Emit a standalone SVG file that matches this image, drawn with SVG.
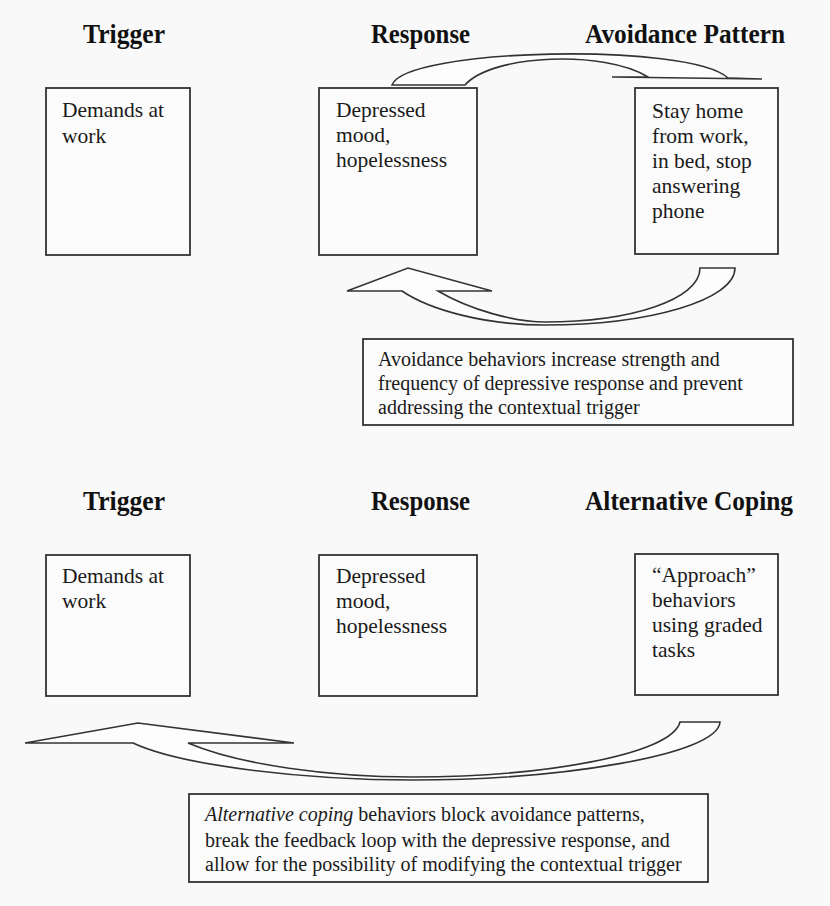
<svg xmlns="http://www.w3.org/2000/svg" width="830" height="906" viewBox="0 0 830 906">
<style>
.bg{fill:#f9f9f9}
.box{fill:#fbfbfb;stroke:#333;stroke-width:1.8}
.hdr{font-family:"Liberation Serif",serif;font-weight:bold;font-size:27px;fill:#111}
.t{font-family:"Liberation Serif",serif;font-size:21.5px;fill:#1a1a1a}
.n{font-family:"Liberation Serif",serif;font-size:20px;fill:#1a1a1a}
.arr{fill:#fdfdfd;stroke:#333;stroke-width:1.6;stroke-linejoin:miter}
</style>
<rect class="bg" x="0" y="0" width="830" height="906"/>
<g id="headers-top">
<text class="hdr" x="83" y="43" textLength="82" lengthAdjust="spacingAndGlyphs">Trigger</text>
<text class="hdr" x="371" y="43" textLength="99" lengthAdjust="spacingAndGlyphs">Response</text>
<text class="hdr" x="585" y="43" textLength="200" lengthAdjust="spacingAndGlyphs">Avoidance Pattern</text>
</g>
<g id="node-trigger1">
<rect class="box" x="46" y="88" width="144" height="167"/>
<text class="t" x="62" y="117">Demands at</text>
<text class="t" x="62" y="143">work</text>
</g>
<g id="node-response1">
<rect class="box" x="319" y="88" width="158" height="167"/>
<text class="t" x="336" y="117">Depressed</text>
<text class="t" x="336" y="142">mood,</text>
<text class="t" x="336" y="167">hopelessness</text>
</g>
<g id="node-avoidance">
<rect class="box" x="635" y="88" width="143" height="166"/>
<text class="t" x="652" y="118">Stay home</text>
<text class="t" x="652" y="143">from work,</text>
<text class="t" x="652" y="168">in bed, stop</text>
<text class="t" x="652" y="193">answering</text>
<text class="t" x="652" y="218">phone</text>
</g>
<g id="note1">
<rect class="box" x="363" y="339" width="430" height="86"/>
<text class="n" x="378" y="366">Avoidance behaviors increase strength and</text>
<text class="n" x="378" y="390">frequency of depressive response and prevent</text>
<text class="n" x="378" y="414">addressing the contextual trigger</text>
</g>
<g id="headers-bottom">
<text class="hdr" x="83" y="510" textLength="82" lengthAdjust="spacingAndGlyphs">Trigger</text>
<text class="hdr" x="371" y="510" textLength="99" lengthAdjust="spacingAndGlyphs">Response</text>
<text class="hdr" x="585" y="510" textLength="208" lengthAdjust="spacingAndGlyphs">Alternative Coping</text>
</g>
<g id="node-trigger2">
<rect class="box" x="46" y="555" width="144" height="141"/>
<text class="t" x="62" y="583">Demands at</text>
<text class="t" x="62" y="608">work</text>
</g>
<g id="node-response2">
<rect class="box" x="319" y="555" width="158" height="141"/>
<text class="t" x="336" y="583">Depressed</text>
<text class="t" x="336" y="608">mood,</text>
<text class="t" x="336" y="633">hopelessness</text>
</g>
<g id="node-coping">
<rect class="box" x="635" y="554" width="143" height="141"/>
<text class="t" x="652" y="582">“Approach”</text>
<text class="t" x="652" y="607">behaviors</text>
<text class="t" x="652" y="632">using graded</text>
<text class="t" x="652" y="657">tasks</text>
</g>
<g id="note2">
<rect class="box" x="189" y="794" width="519" height="88"/>
<text class="n" x="205" y="821"><tspan font-style="italic">Alternative coping</tspan> behaviors block avoidance patterns,</text>
<text class="n" x="205" y="847">break the feedback loop with the depressive response, and</text>
<text class="n" x="205" y="871">allow for the possibility of modifying the contextual trigger</text>
</g>
<g id="connectors">
<path class="arr" d="M392,85 C405,48 690,42 728,78 L762,79 L612,77 L648,77 C605,50 492,54 465,85 Z"/>
<path class="arr" d="M735,268 C735,300 650,325 545,325 C485,325 430,310 402,291 L347,291 L408,268 L492,291 L438,291 C470,310 515,322 545,322 C630,322 700,300 700,268 Z"/>
<path class="arr" d="M720,722 C718,755 560,780 413,780 C300,780 180,765 133,743 L25,743 L138,723 L294,743 L188,743 C240,765 330,777 413,777 C540,777 672,755 680,722 Z"/>
</g>
</svg>
